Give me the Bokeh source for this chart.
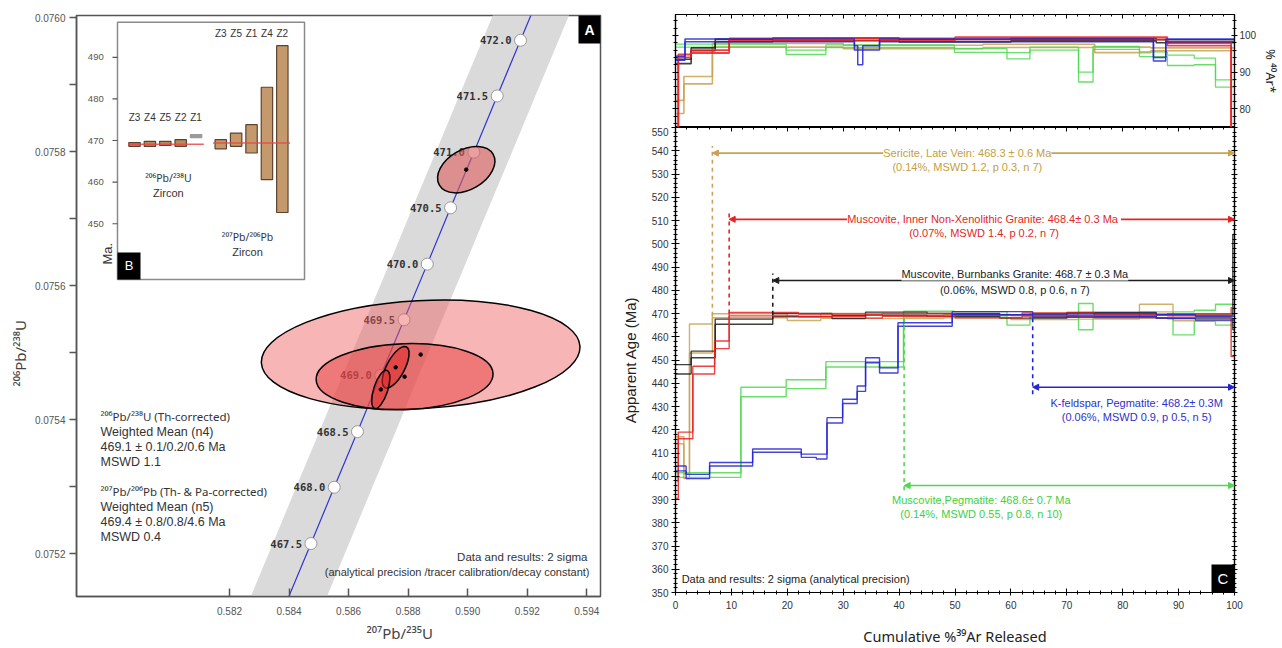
import math
from bokeh.plotting import figure
from bokeh.models import (Range1d, LinearAxis, FixedTicker, PrintfTickFormatter,
                          CustomJSTickFormatter, Label, Arrow, NormalHead,
                          ColumnDataSource, BoxAnnotation, Title)
from bokeh.layouts import row, column
from bokeh.embed import file_html
from bokeh.resources import INLINE
from bokeh.core.properties import value

FONT = "Liberation Sans"
SUPFONT = "Noto Sans"   # has all superscript digits

# ================= Panel A : U-Pb concordia =================
conc_age = [466.5, 467.0, 467.5, 468.0, 468.5, 469.0, 469.5, 470.0,
            470.5, 471.0, 471.5, 472.0, 472.5, 473.0]
conc_r207_235 = [0.583175, 0.583955, 0.584735, 0.585516, 0.586297, 0.587078, 0.587860,
                 0.588642, 0.589424, 0.590207, 0.590990, 0.591774, 0.592558, 0.593343]
conc_r206_238 = [0.075049, 0.075132, 0.075215, 0.075299, 0.075382, 0.075466, 0.075549,
                 0.075632, 0.075716, 0.075799, 0.075883, 0.075966, 0.076050, 0.076133]
marked_ages = [467.5, 468.0, 468.5, 469.0, 469.5, 470.0, 470.5, 471.0, 471.5, 472.0]
band_halfwidth = 0.00128  # decay-constant uncertainty band (in 207/235)

# error ellipses (2 sigma): centre, full width (207/235), full height (206/238), tilt
ell_x = [0.58842, 0.58788, 0.58995, 0.58758, 0.58708]
ell_y = [0.075497, 0.075464, 0.075773, 0.075478, 0.075445]
ell_w = [0.010715, 0.005945, 0.002082, 0.001545, 0.001344]
ell_h = [0.0001612, 0.0000985, 0.0000597, 0.0000269, 0.0000209]
ell_angle = [3, 2, 30, 62, 72]

xticks_a = [0.582, 0.584, 0.586, 0.588, 0.590, 0.592, 0.594]
yticks_a = [0.0752, 0.0754, 0.0756, 0.0758, 0.0760]
yminor_a = [0.0753, 0.0755, 0.0757, 0.0759]

# ================= Panel B : zircon ages (inset) =================
z206_names = ["Z3", "Z4", "Z5", "Z2", "Z1"]
z206_hi = [469.5, 469.8, 469.8, 470.2, 471.4]
z206_lo = [468.6, 468.6, 468.8, 468.6, 470.7]
z207_names = ["Z3", "Z5", "Z1", "Z4", "Z2"]
z207_hi = [470.2, 471.8, 473.8, 482.8, 492.8]
z207_lo = [468.0, 468.6, 467.0, 460.6, 452.7]
wmean_206 = 469.1
wmean_207 = 469.4
inset_ticks = [450, 460, 470, 480, 490]

# ================= Panel C : 40Ar/39Ar spectra =================
# apparent age steps: cumulative %39Ar edges, upper and lower 2-sigma age
black_edges = [0, 2.8, 7.1, 17.4, 28, 34, 45, 58, 70, 86, 99.7, 100]
black_hi = [448.0, 453.8, 467.6, 470.0, 469.2, 470.6, 470.0, 469.4, 470.4, 469.3, 504.0]
black_lo = [444.0, 451.0, 465.4, 468.7, 467.8, 469.3, 468.8, 468.0, 468.9, 468.0, 463.0]

red_edges = [0, 0.5, 3.1, 7.0, 9.6, 22, 34, 37, 50, 62, 75, 88, 99.4, 100]
red_hi = [398.0, 419.0, 447.3, 458.2, 470.4, 469.8, 469.6, 470.0, 469.4, 470.2, 469.5, 469.9, 472.5]
red_lo = [390.5, 416.1, 444.0, 454.9, 469.0, 468.6, 468.0, 468.8, 468.2, 468.9, 468.2, 468.4, 451.5]

gold_edges = [0, 1.5, 2.5, 6.6, 20, 26, 37, 48, 60, 72, 83, 89, 100]
gold_hi = [417.0, 401.0, 465.5, 469.9, 468.6, 470.0, 469.2, 469.6, 469.0, 470.5, 474.0, 469.8]
gold_lo = [414.0, 399.0, 453.0, 468.2, 467.0, 467.9, 467.8, 468.1, 467.4, 467.6, 470.7, 466.9]

green_edges = [0, 11.7, 19.8, 26.9, 40.8, 49.9, 59.3, 63.4, 72.1, 74.7, 89.0, 92.8, 96.6, 100]
green_hi = [401.5, 438.3, 441.5, 449.3, 471.0, 470.8, 469.5, 470.0, 474.3, 469.8, 470.7, 471.4, 474.0]
green_lo = [399.5, 434.2, 437.7, 447.0, 468.5, 469.0, 465.0, 468.5, 463.0, 468.2, 460.8, 466.6, 465.0]

blue_edges = [0, 1.9, 6.1, 13.8, 22.5, 25.2, 27.1, 29.9, 32.5, 34.0, 36.5, 39.8, 49.5,
              63.9, 75, 86, 88, 93, 100]
blue_hi = [404.4, 400.8, 405.9, 411.7, 409.5, 409.5, 425.2, 433.1, 438.8, 451.0, 446.6,
           466.0, 470.8, 469.8, 470.0, 469.6, 469.5, 468.8]
blue_lo = [402.3, 399.0, 404.4, 410.3, 408.1, 407.4, 422.9, 431.3, 436.5, 448.8, 444.4,
           464.5, 469.5, 468.4, 468.6, 468.0, 467.8, 467.2]

# %40Ar* steps
black_ar_edges = [0, 2.8, 7.1, 17.4, 40, 60, 86, 100]
black_ar_hi = [93.5, 96.6, 99.0, 99.3, 98.9, 99.2, 98.8]
black_ar_lo = [92.3, 95.8, 98.3, 98.6, 98.2, 98.5, 98.0]

red_ar_edges = [0, 0.5, 2.8, 9.6, 50, 88, 99.4, 100]
red_ar_hi = [60.0, 94.8, 96.0, 99.2, 99.5, 98.0, 60.0]
red_ar_lo = [58.0, 94.0, 95.2, 98.6, 98.9, 97.2, 58.0]

gold_ar_edges = [0, 1.5, 6.6, 30, 55, 75, 85, 100]
gold_ar_hi = [82.3, 88.8, 97.8, 97.3, 97.6, 96.8, 96.6]
gold_ar_lo = [78.7, 86.8, 96.8, 96.4, 96.7, 95.3, 95.8]

green_ar_edges = [0, 19.8, 26.9, 49.9, 59.3, 63.4, 72.1, 74.7, 83.0, 88.0, 92.8, 96.6, 100]
green_ar_hi = [97.6, 96.0, 97.4, 96.4, 95.3, 96.8, 90.0, 97.0, 95.5, 94.6, 93.8, 87.9]
green_ar_lo = [96.8, 94.8, 96.7, 95.4, 93.6, 96.0, 87.3, 96.2, 94.2, 91.8, 92.0, 85.9]

blue_ar_edges = [0, 1.7, 32.0, 32.6, 33.5, 36.5, 85.5, 87.7, 100]
blue_ar_hi = [94.3, 99.0, 97.2, 96.0, 97.2, 99.0, 94.0, 99.0]
blue_ar_lo = [93.2, 98.3, 96.0, 92.0, 96.0, 98.3, 93.0, 98.3]

# plateau annotations: start of plateau (%39Ar), arrow level (Ma), text lines
plateaus = [
    dict(c="gold", start=6.6, level=469.0, arrow=539.0, tx=52.2,
         t1="Sericite, Late Vein: 468.3 ± 0.6 Ma", y1=539.2,
         t2="(0.14%, MSWD 1.2, p 0.3, n 7)", y2=533.2),
    dict(c="red", start=9.6, level=470.0, arrow=510.5, tx=55.2,
         t1="Muscovite, Inner Non-Xenolithic Granite: 468.4± 0.3  Ma", y1=510.5,
         t2="(0.07%, MSWD 1.4, p 0.2, n 7)", y2=504.8),
    dict(c="black", start=17.4, level=469.5, arrow=484.2, tx=60.7,
         t1="Muscovite, Burnbanks Granite: 468.7 ± 0.3 Ma", y1=486.8,
         t2="(0.06%, MSWD 0.8, p 0.6, n 7)", y2=480.0),
    dict(c="blue", start=63.9, level=468.0, arrow=438.3, tx=82.5,
         t1="K-feldspar, Pegmatite: 468.2± 0.3M", y1=431.4,
         t2="(0.06%, MSWD 0.9, p 0.5, n 5)", y2=425.4),
    dict(c="green", start=40.9, level=468.0, arrow=396.0, tx=54.7,
         t1="Muscovite,Pegmatite: 468.6± 0.7 Ma", y1=389.6,
         t2="(0.14%, MSWD 0.55, p 0.8, n 10)", y2=383.9),
]

# ---------------- styles ----------------
COL = {"black": "#1e1e1e", "red": "#e82222", "gold": "#c9a252",
       "green": "#4fd84f", "blue": "#2323d6"}
TXT = {"black": "#222222", "red": "#e32626", "gold": "#c4a040",
       "green": "#3fd03f", "blue": "#3030cc"}

# =====================================================================
# LEFT FIGURE (A + inset B)
# =====================================================================
FW_A, FH_A = 524, 581
pa = figure(frame_width=FW_A, frame_height=FH_A,
            x_range=Range1d(0.57686, 0.59446), y_range=Range1d(0.075136, 0.076003),
            min_border_left=76, min_border_right=11, min_border_top=15, min_border_bottom=48,
            output_backend="svg", toolbar_location=None)
pa.xgrid.visible = False
pa.ygrid.visible = False
pa.outline_line_color = "#555555"
pa.outline_line_width = 1.5
pa.background_fill_color = "white"

xa = pa.xaxis[0]
xa.ticker = FixedTicker(ticks=xticks_a)
xa.formatter = PrintfTickFormatter(format="%.3f")
xa.major_tick_in = 8
xa.major_tick_out = 0
xa.minor_tick_line_color = None
xa.axis_line_color = "#555555"
xa.axis_line_width = 1.5
xa.major_tick_line_color = "#555555"
xa.major_tick_line_width = 1.5
xa.major_label_text_font = FONT
xa.major_label_text_font_size = "10px"
xa.major_label_text_color = "#555555"
xa.major_label_standoff = 10

ya = pa.yaxis[0]
ya.ticker = FixedTicker(ticks=yticks_a, minor_ticks=yminor_a)
ya.formatter = PrintfTickFormatter(format="%.4f")
ya.major_tick_in = 0
ya.major_tick_out = 7
ya.minor_tick_in = 0
ya.minor_tick_out = 7
ya.axis_line_color = "#555555"
ya.axis_line_width = 1.5
ya.major_tick_line_color = "#555555"
ya.minor_tick_line_color = "#555555"
ya.major_tick_line_width = 1.5
ya.minor_tick_line_width = 1.5
ya.major_label_text_font = FONT
ya.major_label_text_font_size = "10px"
ya.major_label_text_color = "#555555"
ya.major_label_standoff = 4

# axis titles, placed off-centre as in the original
pa.add_layout(Title(text="²⁰⁶Pb/²³⁸U", align="left", offset=210, standoff=4,
                    text_font=SUPFONT, text_font_style="normal", text_font_size="15px",
                    text_color="#444444"), "left")
pa.add_layout(Title(text="²⁰⁷Pb/²³⁵U", align="left", offset=290, standoff=6,
                    text_font=SUPFONT, text_font_style="normal", text_font_size="15px",
                    text_color="#444444"), "below")

# decay constant band
band_x = [x - band_halfwidth for x in conc_r207_235] + [x + band_halfwidth for x in reversed(conc_r207_235)]
band_y = list(conc_r206_238) + list(reversed(conc_r206_238))
pa.patch(band_x, band_y, fill_color="#dadada", line_color=None)

# concordia
pa.line(conc_r207_235, conc_r206_238, line_color="#3434d0", line_width=1.2)
mx = [conc_r207_235[conc_age.index(a)] for a in marked_ages]
my = [conc_r206_238[conc_age.index(a)] for a in marked_ages]
ml = ["%.1f" % a for a in marked_ages]
pa.scatter(mx, my, size=12, fill_color="white", line_color="#9a9a9a", line_width=1)
pa.text(mx, my, text=ml, x_offset=-9, text_align="right", text_baseline="middle",
        text_font=value("DejaVu Sans Mono"), text_font_style="bold",
        text_font_size="10.5px", text_color="#333333")

# ellipses
ell_fill = ["#ee5a5a", "#e83c3c", "#e05c5c", "#e02828", "#e02828"]
ell_alpha = [0.45, 0.5, 0.6, 0.55, 0.55]
esrc = ColumnDataSource(dict(x=ell_x, y=ell_y, w=ell_w, h=ell_h,
                             a=[math.radians(v) for v in ell_angle],
                             fc=ell_fill, fa=ell_alpha))
pa.ellipse(x="x", y="y", width="w", height="h", angle="a", source=esrc,
           fill_color="fc", fill_alpha="fa", line_color="black", line_width=1.5)
pa.scatter(ell_x, ell_y, size=3.5, color="black")

# text blocks
blk = ["²⁰⁶Pb/²³⁸U (Th-corrected)", "Weighted Mean (n4)", "469.1 ± 0.1/0.2/0.6 Ma", "MSWD 1.1",
       "²⁰⁷Pb/²⁰⁶Pb (Th- & Pa-corrected)", "Weighted Mean (n5)", "469.4 ± 0.8/0.8/4.6 Ma", "MSWD 0.4"]
blk_y = [180, 165, 150, 135, 105, 90, 75, 60]
for t, yy in zip(blk, blk_y):
    sup = t.startswith("²")
    pa.add_layout(Label(x=24, y=yy, x_units="screen", y_units="screen", text=t,
                        text_font=SUPFONT if sup else FONT,
                        text_font_size="11.5px" if sup else "12.5px", text_color="#333333",
                        text_baseline="middle"))
pa.add_layout(Label(x=511, y=40, x_units="screen", y_units="screen",
                    text="Data and results: 2 sigma", text_align="right", text_baseline="middle",
                    text_font=FONT, text_font_size="11.5px", text_color="#333333"))
pa.add_layout(Label(x=513, y=25, x_units="screen", y_units="screen",
                    text="(analytical precision /tracer calibration/decay constant)",
                    text_align="right", text_baseline="middle",
                    text_font=FONT, text_font_size="11px", text_color="#333333"))

# "A" tag
pa.add_layout(BoxAnnotation(left=FW_A - 22, right=FW_A, bottom=FH_A - 28, top=FH_A,
                            left_units="screen", right_units="screen",
                            bottom_units="screen", top_units="screen",
                            fill_color="black", fill_alpha=1, line_color=None))
pa.add_layout(Label(x=FW_A - 11, y=FH_A - 14, x_units="screen", y_units="screen", text="A",
                    text_align="center", text_baseline="middle", text_color="white",
                    text_font=FONT, text_font_size="14px", text_font_style="bold"))

# ---------------- inset B (own scales) ----------------
pa.extra_x_ranges = {"ix": Range1d(-3.766, 30.26)}
pa.extra_y_ranges = {"ma": Range1d(360.4, 500.05)}
IR = dict(x_range_name="ix", y_range_name="ma")

pa.quad(left=[-1.104], right=[11.04], bottom=[436.6], top=[498.4],
        fill_color="white", line_color="#8a8a8a", line_width=1.5, **IR)

pos206 = [float(i) for i in range(len(z206_names))]
pos207 = [5.6 + i for i in range(len(z207_names))]
bw = 0.37
z206_fill = ["#b98b5c"] * 4 + ["#9a9a9a"]
z206_line = ["#5b4330"] * 4 + ["#9a9a9a"]
pa.quad(left=[p - bw for p in pos206], right=[p + bw for p in pos206],
        bottom=z206_lo, top=z206_hi, fill_color=z206_fill, line_color=z206_line,
        line_width=1.2, **IR)
pa.quad(left=[p - bw for p in pos207], right=[p + bw for p in pos207],
        bottom=z207_lo, top=z207_hi, fill_color="#c49a6c", line_color="#5b4330",
        line_width=1.2, **IR)
pa.segment(x0=[pos206[0] - 0.4, pos207[0] - 0.5], x1=[pos206[-1] + 0.5, pos207[-1] + 0.5],
           y0=[wmean_206, wmean_207], y1=[wmean_206, wmean_207],
           line_color="#e84848", line_width=1.5, line_alpha=0.85, **IR)
pa.text(pos206, [475.5] * 5, text=z206_names, text_align="center", text_baseline="middle",
        text_font=value(FONT), text_font_size="10px", text_color="#333333", **IR)
pa.text(pos207, [495.7] * 5, text=z207_names, text_align="center", text_baseline="middle",
        text_font=value(FONT), text_font_size="10px", text_color="#333333", **IR)
pa.text([2.2, 7.34], [460.9, 446.7], text=["²⁰⁶Pb/²³⁸U", "²⁰⁷Pb/²⁰⁶Pb"],
        text_align="center", text_baseline="middle",
        text_font=value(SUPFONT), text_font_size="10.5px", text_color="#333333", **IR)
pa.text([2.2, 7.34], [457.3, 443.3], text=["Zircon", "Zircon"],
        text_align="center", text_baseline="middle",
        text_font=value(FONT), text_font_size="11px", text_color="#333333", **IR)
pa.segment(x0=[-1.43] * 5, x1=[-1.104] * 5, y0=inset_ticks, y1=inset_ticks,
           line_color="#555555", line_width=1.2, **IR)
pa.text([-2.0] * 5, inset_ticks, text=[str(v) for v in inset_ticks], text_align="right",
        text_baseline="middle", text_font=value(FONT), text_font_size="9.5px",
        text_color="#555555", **IR)
pa.text([-1.75], [442.8], text=["Ma."], angle=math.pi / 2, text_align="center",
        text_baseline="middle", text_font=value(FONT), text_font_size="13px",
        text_color="#333333", **IR)
pa.quad(left=[-1.104], right=[0.39], bottom=[436.6], top=[443.1],
        fill_color="black", line_color=None, **IR)
pa.text([-0.357], [439.85], text=["B"], text_align="center", text_baseline="middle",
        text_font=value(FONT), text_font_size="13px", text_color="white", **IR)

# =====================================================================
# RIGHT FIGURES (C)
# =====================================================================
FW_C = 559
BL, BR = 64, 40
empty = CustomJSTickFormatter(code="return ''")
xt_c = FixedTicker(ticks=list(range(0, 101, 10)), minor_ticks=list(range(0, 101, 2)))


def style_axis(ax, tin=4, tout=4, mtin=2, mtout=2):
    ax.major_tick_in = tin
    ax.major_tick_out = tout
    ax.minor_tick_in = mtin
    ax.minor_tick_out = mtout
    ax.axis_line_color = "black"
    ax.axis_line_width = 1.2
    ax.major_tick_line_color = "black"
    ax.minor_tick_line_color = "black"
    ax.major_label_text_font = FONT
    ax.major_label_text_font_size = "10px"
    ax.major_label_text_color = "#333333"
    ax.axis_label_text_font = FONT
    ax.axis_label_text_font_style = "normal"
    ax.axis_label_text_color = "#222222"


def ticks_only(ax):
    ax.formatter = empty
    ax.major_label_text_font_size = "1px"
    ax.major_label_standoff = 0


# ---- top: %40Ar* ----
pt = figure(frame_width=FW_C, frame_height=113, x_range=Range1d(0, 100),
            y_range=Range1d(74.9, 105.7), x_axis_location="above", y_axis_location="right",
            min_border_left=BL, min_border_right=BR, min_border_top=14, min_border_bottom=0,
            output_backend="svg", toolbar_location=None)
pt.xgrid.visible = False
pt.ygrid.visible = False
pt.outline_line_color = "black"
pt.outline_line_width = 1.2
yt_top = FixedTicker(ticks=[80, 90, 100], minor_ticks=list(range(76, 106, 2)))
style_axis(pt.xaxis[0], tin=4, tout=0, mtin=2, mtout=0)
pt.xaxis[0].ticker = xt_c
ticks_only(pt.xaxis[0])
style_axis(pt.yaxis[0], tin=3, tout=3, mtin=2, mtout=2)
pt.yaxis[0].ticker = yt_top
pt.yaxis[0].major_label_standoff = 2
pt.yaxis[0].axis_label = "% ⁴⁰Ar*"
pt.yaxis[0].axis_label_text_font = SUPFONT
pt.yaxis[0].axis_label_text_font_size = "13px"
pt.yaxis[0].axis_label_standoff = 3
lft = LinearAxis(ticker=yt_top)
style_axis(lft, tin=3, tout=3, mtin=2, mtout=2)
ticks_only(lft)
pt.add_layout(lft, "left")

for c, e, hi, lo, w in [("gold", gold_ar_edges, gold_ar_hi, gold_ar_lo, 1.6),
                        ("green", green_ar_edges, green_ar_hi, green_ar_lo, 1.3),
                        ("black", black_ar_edges, black_ar_hi, black_ar_lo, 1.6),
                        ("red", red_ar_edges, red_ar_hi, red_ar_lo, 1.8),
                        ("blue", blue_ar_edges, blue_ar_hi, blue_ar_lo, 1.5)]:
    for vals in (hi, lo):
        pt.step(e, vals + [vals[-1]], mode="after", line_color=COL[c], line_width=w,
                line_alpha=0.85)

# ---- bottom: apparent age spectra ----
pb = figure(frame_width=FW_C, frame_height=465, x_range=Range1d(0, 100),
            y_range=Range1d(350, 550),
            min_border_left=BL, min_border_right=BR, min_border_top=0, min_border_bottom=52,
            output_backend="svg", toolbar_location=None)
pb.xgrid.visible = False
pb.ygrid.visible = False
pb.outline_line_color = "black"
pb.outline_line_width = 1.2
yt_age = FixedTicker(ticks=list(range(350, 551, 10)), minor_ticks=list(range(350, 551, 2)))
style_axis(pb.xaxis[0], tin=4, tout=3, mtin=2, mtout=2)
pb.xaxis[0].ticker = xt_c
pb.xaxis[0].major_label_standoff = 5
pb.xaxis[0].axis_label = "Cumulative %³⁹Ar Released"
pb.xaxis[0].axis_label_text_font = SUPFONT
pb.xaxis[0].axis_label_text_font_size = "14.5px"
pb.xaxis[0].axis_label_standoff = 14
style_axis(pb.yaxis[0], tin=4, tout=4, mtin=2, mtout=2)
pb.yaxis[0].ticker = yt_age
pb.yaxis[0].major_label_standoff = 3
pb.yaxis[0].axis_label = "Apparent Age (Ma)"
pb.yaxis[0].axis_label_text_font_size = "15px"
pb.yaxis[0].axis_label_standoff = 10
rax = LinearAxis(ticker=yt_age)
style_axis(rax, tin=3, tout=3, mtin=2, mtout=2)
ticks_only(rax)
pb.add_layout(rax, "right")
tax = LinearAxis(ticker=xt_c)
style_axis(tax, tin=4, tout=0, mtin=2, mtout=0)
ticks_only(tax)
pb.add_layout(tax, "above")

for c, e, hi, lo in [("gold", gold_edges, gold_hi, gold_lo),
                     ("green", green_edges, green_hi, green_lo),
                     ("black", black_edges, black_hi, black_lo),
                     ("red", red_edges, red_hi, red_lo),
                     ("blue", blue_edges, blue_hi, blue_lo)]:
    for vals in (hi, lo):
        pb.step(e, vals + [vals[-1]], mode="after", line_color=COL[c], line_width=1.4,
                line_alpha=0.85)

for pl in plateaus:
    c = COL[pl["c"]]
    top = pl["arrow"] + (3.0 if pl["arrow"] > pl["level"] else -3.0)
    pb.segment(x0=[pl["start"]], x1=[pl["start"]], y0=[pl["level"]], y1=[top],
               line_color=c, line_width=1.6, line_dash="4 4")
    pb.add_layout(Arrow(start=NormalHead(size=6, fill_color=c, line_color=c),
                        end=NormalHead(size=6, fill_color=c, line_color=c),
                        x_start=pl["start"], y_start=pl["arrow"], x_end=100, y_end=pl["arrow"],
                        line_color=c, line_width=1.6))
    pb.add_layout(Label(x=pl["tx"], y=pl["y1"], text=pl["t1"], text_align="center",
                        text_baseline="middle", text_font=FONT, text_font_size="11px",
                        text_color=TXT[pl["c"]], background_fill_color="white"))
    pb.add_layout(Label(x=pl["tx"], y=pl["y2"], text=pl["t2"], text_align="center",
                        text_baseline="middle", text_font=FONT, text_font_size="11px",
                        text_color=TXT[pl["c"]]))

pb.add_layout(Label(x=1.1, y=355.6, text="Data and results: 2 sigma (analytical precision)",
                    text_align="left", text_baseline="middle", text_font=FONT,
                    text_font_size="11px", text_color="#222222"))
pb.add_layout(BoxAnnotation(left=FW_C - 23, right=FW_C, bottom=0, top=28,
                            left_units="screen", right_units="screen",
                            bottom_units="screen", top_units="screen",
                            fill_color="black", fill_alpha=1, line_color=None))
pb.add_layout(Label(x=FW_C - 11.5, y=14, x_units="screen", y_units="screen", text="C",
                    text_align="center", text_baseline="middle", text_color="white",
                    text_font=FONT, text_font_size="15px"))

layout = row(pa, column(pt, pb))
open("out.html", "w").write(file_html(layout, INLINE, "chart"))
